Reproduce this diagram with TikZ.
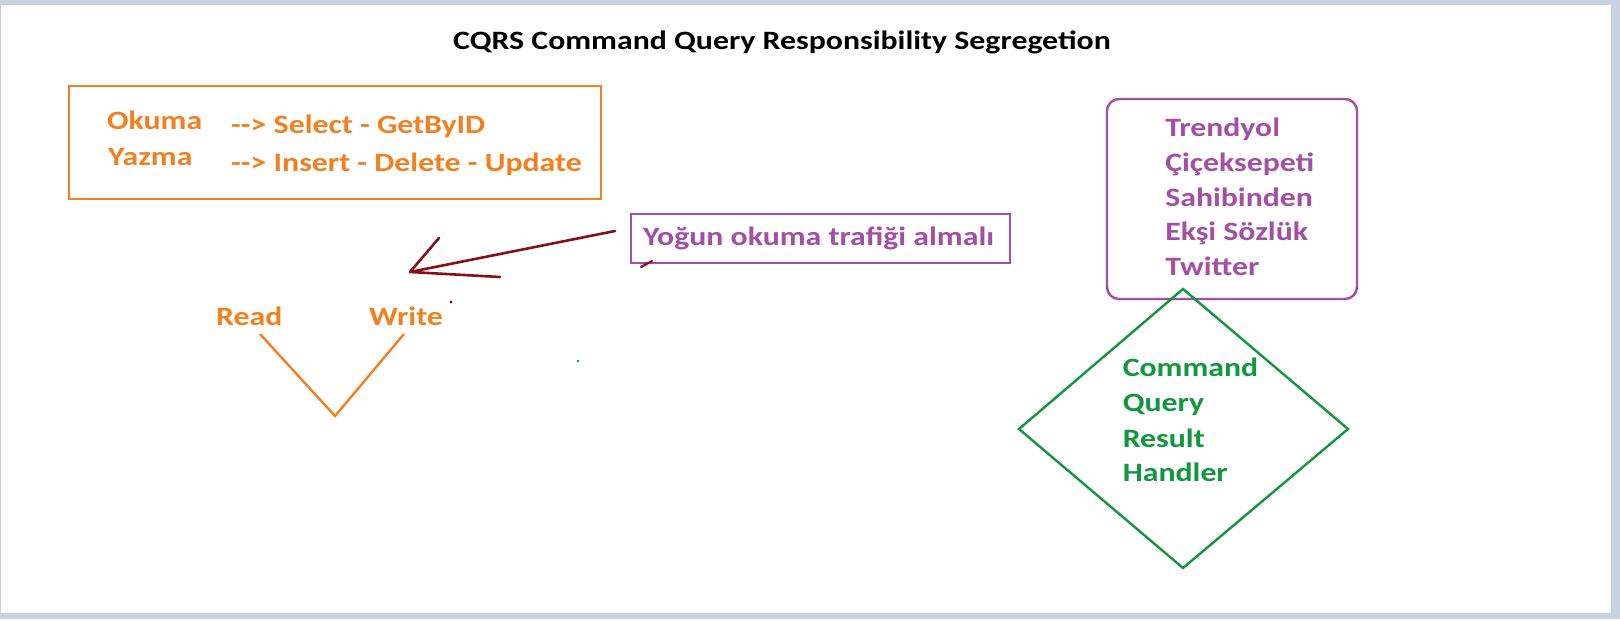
\documentclass[tikz,border=0pt]{standalone}
\usepackage{fontspec}
\setmainfont{Carlito}
\definecolor{frameblue}{HTML}{C9D2E1}
\definecolor{orng}{HTML}{F3801F}
\definecolor{purp}{HTML}{A34FA6}
\definecolor{grn}{HTML}{12963F}
\definecolor{dred}{HTML}{880F1A}
\definecolor{teal}{HTML}{1E7A6A}
\tikzset{
  x=1pt, y=-1pt,
  lbl/.style={inner sep=0pt, anchor=base west, xscale=1.2,
    font=\fontsize{26.5}{30}\selectfont\bfseries},
  oline/.style={draw=orng, line width=2.8pt},
  pline/.style={draw=purp, line width=2.4pt},
  gline/.style={draw=grn, line width=2.4pt, line join=miter},
  rline/.style={draw=dred, line width=2.6pt, line cap=round, line join=round},
}
\begin{document}
\begin{tikzpicture}
\useasboundingbox (0,0) rectangle (1620,619);
\fill[frameblue] (0,0) rectangle (1620,619);
\fill[white] (1,5) rectangle (1611,613);

% title
\node[lbl, text=black] (title) at (453,49.5) {CQRS Command Query Responsibility Segregetion};

% orange box
\draw[oline] (69,86) rectangle (601,199);
\node[lbl, text=orng] (okuma) at (107,129) {Okuma};
\node[lbl, text=orng] (yazma) at (108,165) {Yazma};
\node[lbl, text=orng] (sel) at (231,133.5) {-{}-{}> Select - GetByID};
\node[lbl, text=orng] (ins) at (231,171) {-{}-{}> Insert - Delete - Update};

% purple note box
\draw[pline] (631,214) rectangle (1010,263);
\node[lbl, text=purp] (yogun) at (643,245) {Yoğun okuma trafiği almalı};

% hand drawn arrow
\coordinate (atail) at (615,231);
\coordinate (atip) at (410,272);
\coordinate (abarbA) at (500,277);
\coordinate (abarbB) at (439,238);
\draw[rline] (atail) -- (atip) -- (abarbA);
\draw[rline] (atip) -- (abarbB);
\coordinate (tickA) at (641,267);
\coordinate (tickB) at (652,261);
\draw[rline, line width=2.2pt] (tickA) -- (tickB);
\fill[dred] (451,302) circle (1.6);
\fill[teal] (578,361) circle (1.3);

% read / write V
\node[lbl, text=orng] (read) at (216,325.5) {Read};
\node[lbl, text=orng] (write) at (369,325.5) {Write};
\coordinate (vL) at (260,334);
\coordinate (vB) at (335,416);
\coordinate (vR) at (404,334);
\draw[oline, line width=2.4pt] (vL) -- (vB) -- (vR);

% right purple box
\draw[pline, rounded corners=12] (1107,99) rectangle (1357,299);
\node[lbl, text=purp] (l1) at (1165,136) {Trendyol};
\node[lbl, text=purp] (l2) at (1165,171.5) {Çiçeksepeti};
\node[lbl, text=purp] (l3) at (1165,206) {Sahibinden};
\node[lbl, text=purp] (l4) at (1165,240.5) {Ekşi Sözlük};
\node[lbl, text=purp] (l5) at (1165,275) {Twitter};

% green diamond
\coordinate (dT) at (1183,289);
\coordinate (dR) at (1348,429);
\coordinate (dB) at (1183,568);
\coordinate (dL) at (1019,429);
\draw[gline] (dT) -- (dR) -- (dB) -- (dL) -- cycle;
\node[lbl, text=grn] (g1) at (1122.5,376.5) {Command};
\node[lbl, text=grn] (g2) at (1122.5,411.5) {Query};
\node[lbl, text=grn] (g3) at (1122.5,447) {Result};
\node[lbl, text=grn] (g4) at (1122.5,481.5) {Handler};
\end{tikzpicture}
\end{document}
